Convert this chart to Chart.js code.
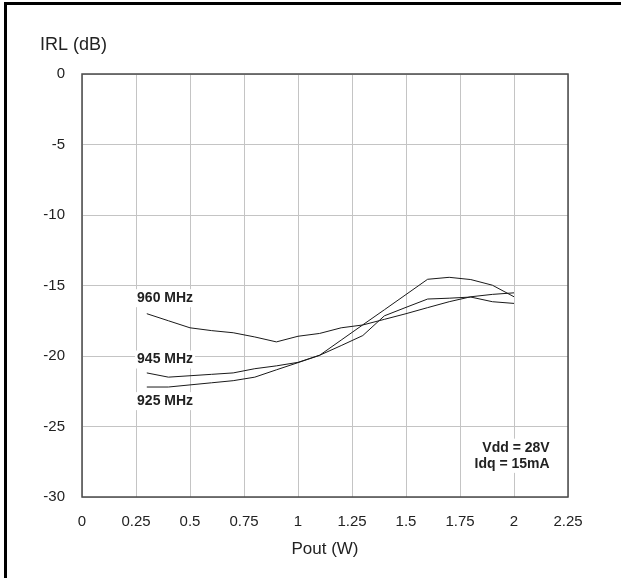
<!DOCTYPE html>
<html>
<head>
<meta charset="utf-8">
<script src="https://cdn.jsdelivr.net/npm/chart.js@4.4.0/dist/chart.umd.min.js"></script>
<style>
  html, body { margin: 0; padding: 0; background: #fff; }
  #wrap { position: relative; width: 621px; height: 578px; }
</style>
</head>
<body>
<div id="wrap"><canvas id="irlChart"></canvas></div>
<script>
// Pout (W) sample points, shared by all three curves
const pout = [0.3, 0.4, 0.5, 0.6, 0.7, 0.8, 0.9, 1.0, 1.1, 1.2, 1.3, 1.4, 1.5, 1.6, 1.7, 1.8, 1.9, 2.0];

// IRL (dB) per frequency
const irl960 = [-17.0, -17.5, -18.0, -18.2, -18.35, -18.65, -19.0, -18.6, -18.4, -18.0, -17.8, -17.4, -17.0, -16.57, -16.15, -15.8, -15.63, -15.52];
const irl945 = [-21.2, -21.5, -21.4, -21.3, -21.2, -20.9, -20.7, -20.45, -19.95, -19.26, -18.55, -17.15, -16.55, -15.96, -15.9, -15.82, -16.15, -16.27];
const irl925 = [-22.2, -22.2, -22.05, -21.9, -21.75, -21.5, -20.98, -20.47, -19.95, -18.87, -17.79, -16.72, -15.64, -14.56, -14.42, -14.58, -14.98, -15.8];

// axis ticks
const xTicks = [0, 0.25, 0.5, 0.75, 1, 1.25, 1.5, 1.75, 2, 2.25];
const xTickLabels = ['0', '0.25', '0.5', '0.75', '1', '1.25', '1.5', '1.75', '2', '2.25'];
const yTicks = [0, -5, -10, -15, -20, -25, -30];

// curve labels: [text, x, y] in data units
const curveLabels = [
    ['960 MHz', 0.255, -15.9],
    ['945 MHz', 0.255, -20.25],
    ['925 MHz', 0.255, -23.2]
];
const conditions = ['Vdd = 28V', 'Idq = 15mA'];
const conditionY = [-26.5, -27.65];

const FONT = "'Liberation Sans', Arial, sans-serif";

const toPoints = (ys) => ys.map((y, i) => ({ x: pout[i], y: y }));

const lineStyle = {
    borderColor: '#1a1a1a',
    borderWidth: 1,
    pointRadius: 0,
    tension: 0,
    fill: false
};

// page frame + plot frame + texts
const decorPlugin = {
    id: 'decor',
    beforeDraw(chart) {
        const ctx = chart.ctx;
        ctx.save();
        ctx.fillStyle = '#fff';
        ctx.fillRect(0, 0, chart.width, chart.height);
        ctx.fillStyle = '#000';
        ctx.fillRect(4, 2, chart.width, 3);
        ctx.fillRect(4, 2, 3, chart.height);
        ctx.restore();
    },
    beforeDatasetsDraw(chart) {
        const { ctx, chartArea: a } = chart;
        ctx.save();
        ctx.strokeStyle = '#4a4a4a';
        ctx.lineWidth = 1.5;
        ctx.strokeRect(a.left, a.top, a.right - a.left, a.bottom - a.top);
        ctx.fillStyle = '#222';
        ctx.font = '18px ' + FONT;
        ctx.textAlign = 'left';
        ctx.textBaseline = 'middle';
        ctx.fillText('IRL (dB)', 40, 45);
        ctx.restore();
    },
    afterDatasetsDraw(chart) {
        const { ctx, scales: { x, y } } = chart;
        ctx.save();
        ctx.font = 'bold 14px ' + FONT;
        ctx.textBaseline = 'middle';
        ctx.textAlign = 'left';
        curveLabels.forEach(([txt, lx, ly]) => {
            const px = x.getPixelForValue(lx);
            const py = y.getPixelForValue(ly);
            const w = ctx.measureText(txt).width;
            ctx.fillStyle = '#fff';
            ctx.fillRect(px - 2, py - 9, w + 4, 18);
            ctx.fillStyle = '#222';
            ctx.fillText(txt, px, py);
        });
        ctx.textAlign = 'right';
        const rx = x.getPixelForValue(2.165);
        conditions.forEach((txt, i) => {
            const py = y.getPixelForValue(conditionY[i]);
            const w = ctx.measureText(txt).width;
            ctx.fillStyle = '#fff';
            ctx.fillRect(rx - w - 2, py - 9, w + 4, 18);
            ctx.fillStyle = '#222';
            ctx.fillText(txt, rx, py);
        });
        ctx.restore();
    }
};

new Chart(document.getElementById('irlChart'), {
    type: 'line',
    data: {
        datasets: [
            Object.assign({ label: '960 MHz', data: toPoints(irl960) }, lineStyle),
            Object.assign({ label: '945 MHz', data: toPoints(irl945) }, lineStyle),
            Object.assign({ label: '925 MHz', data: toPoints(irl925) }, lineStyle)
        ]
    },
    options: {
        responsive: true,
        maintainAspectRatio: false,
        animation: false,
        layout: { padding: { left: 0, top: 74, right: 53, bottom: 0 } },
        scales: {
            x: {
                type: 'linear',
                min: 0,
                max: 2.25,
                afterBuildTicks: (s) => { s.ticks = xTicks.map(v => ({ value: v })); },
                afterFit: (s) => { s.height = 81; },
                grid: { color: '#c4c4c4', lineWidth: 1, drawTicks: false },
                border: { display: false },
                ticks: {
                    color: '#222',
                    font: { family: FONT, size: 15 },
                    padding: 16,
                    maxRotation: 0,
                    autoSkip: false,
                    callback: (v, i) => xTickLabels[i]
                },
                title: { display: true, text: 'Pout (W)', color: '#222', font: { family: FONT, size: 17 }, padding: { top: 0, bottom: 18 } }
            },
            y: {
                min: -30,
                max: 0,
                afterBuildTicks: (s) => { s.ticks = yTicks.map(v => ({ value: v })); },
                afterFit: (s) => { s.width = 82; },
                grid: { color: '#c4c4c4', lineWidth: 1, drawTicks: false },
                border: { display: false },
                ticks: { color: '#222', font: { family: FONT, size: 15 }, padding: 17 }
            }
        },
        plugins: {
            legend: { display: false },
            tooltip: { enabled: false }
        }
    },
    plugins: [decorPlugin]
});
</script>
</body>
</html>
